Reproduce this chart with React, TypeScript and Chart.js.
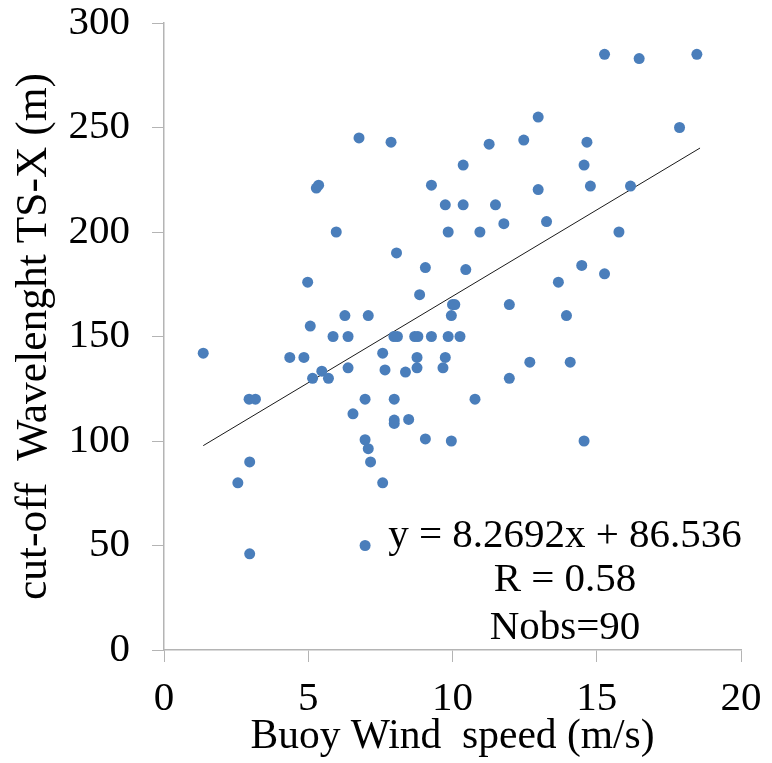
import React, { useEffect, useRef } from "react";
import { Chart, registerables } from "chart.js";

Chart.register(...registerables);

// Buoy wind speed (m/s)
const windSpeed: number[] = [
  6.76, 7.87, 5.28, 5.36, 9.27, 9.75, 5.97, 9.85, 8.06, 9.06,
  4.98, 8.86, 10.0, 10.08, 6.27, 7.08, 9.96, 5.07, 15.27, 16.47,
  18.47, 12.97, 17.87, 11.27, 12.47, 14.66, 10.37, 14.56, 14.78, 16.17,
  12.97, 10.37, 11.49, 11.78, 13.26, 10.95, 15.77, 10.46, 14.48, 15.27,
  13.67, 11.97, 13.95, 9.85, 10.26, 5.86, 6.38, 7.97, 8.09, 8.69,
  8.8, 9.27, 1.36, 4.36, 4.85, 7.58, 8.77, 9.75, 6.38, 7.66,
  8.37, 8.77, 9.67, 5.15, 5.47, 5.7, 2.95, 3.17, 6.97, 7.98,
  6.55, 7.98, 7.98, 8.48, 6.97, 7.08, 7.16, 9.06, 9.96, 2.97,
  2.56, 7.58, 6.97, 2.97, 12.68, 14.08, 11.97, 10.78, 14.56,
];

// cut-off wavelength TS-X (m)
const wavelength: number[] = [
  245, 243, 221, 222.4, 222.4, 213, 200, 200, 190, 183,
  176, 170, 165.3, 165.3, 160, 160, 160, 155, 285, 283,
  285, 255, 250, 242, 244, 243, 232, 232, 222, 222,
  220.3, 213, 213, 204, 205, 200, 200, 182, 184, 180,
  176, 165.3, 160, 150, 150, 150, 150, 150, 150, 150,
  150, 150, 142, 140, 140, 142, 140, 140, 135, 134,
  133, 135, 135, 130, 133.4, 130, 120, 120, 120, 120,
  113, 110, 108.4, 110.3, 100.6, 96.3, 90, 101, 100, 90,
  80, 80, 50, 46, 137.7, 137.7, 130, 120, 100,
];

// Regression reported on the chart
const slope = 8.2692;
const intercept = 86.536;
const trendRange: number[] = [1.36, 18.58];
const annotationLines: string[] = ["y = 8.2692x + 86.536", "R = 0.58", "Nobs=90"];

const xTicksRange = { min: 0, max: 20, step: 5 };
const yTicksRange = { min: 0, max: 300, step: 50 };

const xTitle = "Buoy Wind  speed (m/s)";
const yTitle = "cut-off  Wavelenght TS-X (m)";

const FONT = "'Liberation Serif', 'Times New Roman', serif";
const AXIS_GREY = "#b4b4b4";

export default function App() {
  const ref = useRef<HTMLCanvasElement | null>(null);

  useEffect(() => {
    if (!ref.current) return;
    const points = windSpeed.map((x, i) => ({ x, y: wavelength[i] }));
    const trend = trendRange.map((x) => ({ x, y: slope * x + intercept }));

    const annotationPlugin = {
      id: "regressionText",
      afterDatasetsDraw(chart: any) {
        const ctx = chart.ctx;
        const area = chart.chartArea;
        ctx.save();
        ctx.font = `41px ${FONT}`;
        ctx.fillStyle = "#000";
        ctx.textAlign = "center";
        ctx.textBaseline = "alphabetic";
        const cx = area.left + 401;
        const baselines = [547, 591, 639];
        annotationLines.forEach((t, i) => ctx.fillText(t, cx, baselines[i]));
        ctx.restore();
      },
    };

    const chart = new Chart(ref.current, {
      type: "scatter",
      data: {
        datasets: [
          {
            type: "line",
            data: trend,
            borderColor: "#1a1a1a",
            borderWidth: 1,
            pointRadius: 0,
            fill: false,
            order: 2,
          } as any,
          {
            data: points,
            backgroundColor: "#4a7ebb",
            borderColor: "#4a7ebb",
            borderWidth: 0,
            pointRadius: 5.5,
            order: 1,
          },
        ],
      },
      options: {
        responsive: false,
        animation: false,
        devicePixelRatio: 1,
        layout: { padding: { top: 23, right: 31, left: 0, bottom: 0 } },
        plugins: {
          legend: { display: false },
          tooltip: { enabled: false },
        },
        scales: {
          x: {
            type: "linear",
            min: xTicksRange.min,
            max: xTicksRange.max,
            afterFit: (s: any) => {
              s.height = 113;
              s.paddingLeft = 0;
              s.paddingRight = 0;
            },
            ticks: {
              stepSize: xTicksRange.step,
              color: "#000",
              padding: 17,
              maxRotation: 0,
              font: { family: FONT, size: 41, lineHeight: 1 },
            },
            grid: {
              display: true,
              drawOnChartArea: false,
              drawTicks: true,
              tickLength: 12,
              color: AXIS_GREY,
            },
            border: { display: true, color: AXIS_GREY, width: 1.5 },
            title: {
              display: true,
              text: xTitle,
              color: "#000",
              font: { family: FONT, size: 41.5, lineHeight: 1.2 },
              padding: { top: 0, bottom: 1 },
            },
          },
          y: {
            type: "linear",
            min: yTicksRange.min,
            max: yTicksRange.max,
            afterFit: (s: any) => {
              s.width = 164;
              s.paddingTop = 0;
              s.paddingBottom = 0;
            },
            ticks: {
              stepSize: yTicksRange.step,
              color: "#000",
              padding: 22,
              font: { family: FONT, size: 41, lineHeight: 1 },
            },
            grid: {
              display: true,
              drawOnChartArea: false,
              drawTicks: true,
              tickLength: 12,
              color: AXIS_GREY,
            },
            border: { display: true, color: AXIS_GREY, width: 1.5 },
            title: {
              display: true,
              text: yTitle,
              color: "#000",
              font: { family: FONT, size: 43.5, lineHeight: 1.2 },
              padding: { top: 8, bottom: 0 },
            },
          },
        },
      },
      plugins: [annotationPlugin],
    });

    return () => chart.destroy();
  }, []);

  return (
    <div style={{ position: "absolute", left: 0, top: 0, width: 772, height: 763, background: "#fff" }}>
      <canvas ref={ref} width={772} height={763} style={{ display: "block" }} />
    </div>
  );
}
